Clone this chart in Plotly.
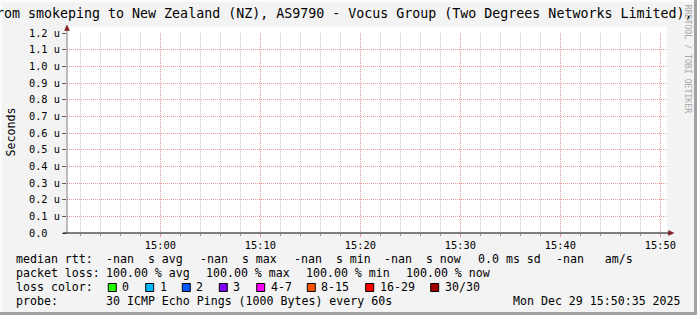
import plotly.graph_objects as go

# ---------------- data ----------------
times = ["2025-12-29 14:50:40", "2025-12-29 15:50:40"]
median_rtt = [None, None]
x_range = ["2025-12-29 14:50:40", "2025-12-29 15:50:40"]
x_tick0 = "2025-12-29 15:00"
y_tick_vals = [0.0, 0.1e-6, 0.2e-6, 0.3e-6, 0.4e-6, 0.5e-6, 0.6e-6,
               0.7e-6, 0.8e-6, 0.9e-6, 1.0e-6, 1.1e-6, 1.2e-6]
y_tick_text = ["0.0\u00a0\u00a0", "0.1 u", "0.2 u", "0.3 u", "0.4 u", "0.5 u", "0.6 u",
               "0.7 u", "0.8 u", "0.9 u", "1.0 u", "1.1 u", "1.2 u"]
y_max = 1.2e-6
title_text = "rom smokeping to New Zealand (NZ), AS9790 - Vocus Group (Two Degrees Networks Limited),"
y_title = "Seconds"
watermark = "RRDTOOL / TOBI OETIKER"
median_label = "median rtt:"
median_items = ["-nan  s avg", "-nan  s max", "-nan  s min", "-nan  s now", "0.0 ms sd", "-nan   am/s"]
loss_label = "packet loss:"
loss_items = ["100.00 % avg", "100.00 % max", "100.00 % min", "100.00 % now"]
loss_color_label = "loss color:"
loss_color_names = ["0", "1", "2", "3", "4-7", "8-15", "16-29", "30/30"]
loss_color_values = ["#26ff00", "#00b8ff", "#0059ff", "#7e00ff", "#ff00ff", "#ff5500", "#ff0000", "#a10000"]
probe_label = "probe:"
probe_text = "30 ICMP Echo Pings (1000 Bytes) every 60s"
timestamp = "Mon Dec 29 15:50:35 2025"

# ---------------- layout constants ----------------
W, H = 697, 315
L, R, T, B = 67, 667, 33, 233
MONO = "DejaVu Sans Mono"
BG = "#f3f3f3"
RED_GRID = "#e59a9a"
GRAY_GRID = "#c4c4c4"


def px(x):
    return (x - L) / (R - L)


def py(y):
    return (B - y) / (B - T)


def nb(s):
    return s.replace(" ", "\u00a0")


fig = go.Figure()
fig.add_trace(go.Scatter(x=times, y=median_rtt, mode="lines",
                         line=dict(color="#000000", width=1), showlegend=False,
                         hoverinfo="skip"))

annotations = []
shapes = []


def text(x, y, s, size=11.6, xanchor="left", yanchor="middle", angle=0, color="#000000"):
    annotations.append(dict(x=px(x), y=py(y), xref="paper", yref="paper", text=nb(s),
                            showarrow=False, xanchor=xanchor, yanchor=yanchor,
                            textangle=angle, borderpad=0, borderwidth=0,
                            font=dict(family=MONO, size=size, color=color)))


# title
text(-3.7, 13.5, title_text, size=13.3)
# axis title and watermark
text(10, 132.5, y_title, size=11.6, xanchor="center", angle=-90)
text(688.3, 59, watermark, size=8.2, xanchor="center", angle=90, color="#a8a8a8")

# legend rows
row_y = [259.3, 273.1, 287.0, 300.8]
col0 = 16
median_x = [105.6, 200.0, 293.6, 384.0, 478.3, 555.5]
text(col0, row_y[0], median_label)
for xx, s in zip(median_x, median_items):
    text(xx, row_y[0], s)
loss_x = [106.0, 206.0, 306.0, 406.0]
text(col0, row_y[1], loss_label)
for xx, s in zip(loss_x, loss_items):
    text(xx, row_y[1], s)
sq_x = [108.3, 145.7, 182.3, 219.3, 256.7, 307.3, 365.7, 430.7]
text(col0, row_y[2], loss_color_label)
for xx, name, col in zip(sq_x, loss_color_names, loss_color_values):
    shapes.append(dict(type="rect", xref="paper", yref="paper",
                       x0=px(xx), x1=px(xx + 8), y0=py(283.5), y1=py(291.5),
                       fillcolor=col, line=dict(color="#000000", width=1), layer="above"))
    text(xx + 14, row_y[2], name)
text(col0, row_y[3], probe_label)
text(106.2, row_y[3], probe_text)
text(680.8, row_y[3], timestamp, xanchor="right")

# frame shading
shapes.append(dict(type="rect", xref="paper", yref="paper", x0=px(0), x1=px(W), y0=py(0), y1=py(2),
                   fillcolor="#fbfbfb", line=dict(width=0), layer="below"))
shapes.append(dict(type="rect", xref="paper", yref="paper", x0=px(0), x1=px(2), y0=py(0), y1=py(H),
                   fillcolor="#fbfbfb", line=dict(width=0), layer="below"))
shapes.append(dict(type="rect", xref="paper", yref="paper", x0=px(694), x1=px(W + 2), y0=py(-2), y1=py(H + 2),
                   fillcolor="#a2a2a2", line=dict(width=0), layer="above"))
shapes.append(dict(type="rect", xref="paper", yref="paper", x0=px(0), x1=px(W + 2), y0=py(312), y1=py(H + 2),
                   fillcolor="#a2a2a2", line=dict(width=0), layer="above"))
# canvas extension above plot
shapes.append(dict(type="rect", xref="paper", yref="paper", x0=px(L), x1=px(R), y0=py(T), y1=py(26.5),
                   fillcolor="#ffffff", line=dict(width=0), layer="below"))
# axes with extensions
shapes.append(dict(type="line", xref="paper", yref="paper", x0=px(67), x1=px(67), y0=py(233), y1=py(29),
                   line=dict(color="#7a7a7a", width=1), layer="above"))
shapes.append(dict(type="line", xref="paper", yref="paper", x0=px(63), x1=px(670), y0=py(233), y1=py(233),
                   line=dict(color="#000000", width=1), layer="above"))
# arrows
shapes.append(dict(type="path", xref="paper", yref="paper",
                   path=f"M {px(64.5)} {py(30.5)} L {px(69.5)} {py(30.5)} L {px(67)} {py(25)} Z",
                   fillcolor="#7f1f1f", line=dict(color="#7f1f1f", width=0.5), layer="above"))
shapes.append(dict(type="path", xref="paper", yref="paper",
                   path=f"M {px(668.5)} {py(230.5)} L {px(668.5)} {py(235.5)} L {px(674)} {py(233)} Z",
                   fillcolor="#7f1f1f", line=dict(color="#7f1f1f", width=0.5), layer="above"))

fig.update_layout(
    width=W, height=H,
    margin=dict(l=L, r=W - R, t=T, b=H - B, pad=0),
    paper_bgcolor=BG, plot_bgcolor="#ffffff",
    showlegend=False,
    annotations=annotations, shapes=shapes,
    font=dict(family=MONO, size=10.3, color="#000000"),
)
fig.update_xaxes(
    type="date", range=x_range, tick0=x_tick0, dtick=600000, tickformat="%H:%M",
    showgrid=True, gridcolor=RED_GRID, griddash="1px,1px", gridwidth=1,
    ticks="outside", ticklen=3, tickcolor=RED_GRID, tickwidth=1,
    minor=dict(dtick=120000, showgrid=True, gridcolor=GRAY_GRID, griddash="1px,1px", gridwidth=1,
               ticks="outside", ticklen=2, tickcolor="#909090"),
    showline=False, zeroline=False,
    tickfont=dict(family=MONO, size=10.3, color="#000000"),
    fixedrange=True,
)
fig.update_yaxes(
    range=[0, y_max], tickmode="array", tickvals=y_tick_vals, ticktext=y_tick_text,
    showgrid=True, gridcolor=RED_GRID, griddash="1px,1px", gridwidth=1,
    ticks="outside", ticklen=4, tickcolor="#606060", tickwidth=1,
    showline=False, zeroline=False,
    tickfont=dict(family=MONO, size=10.3, color="#000000"),
    fixedrange=True,
)

fig.write_html("out.html")
